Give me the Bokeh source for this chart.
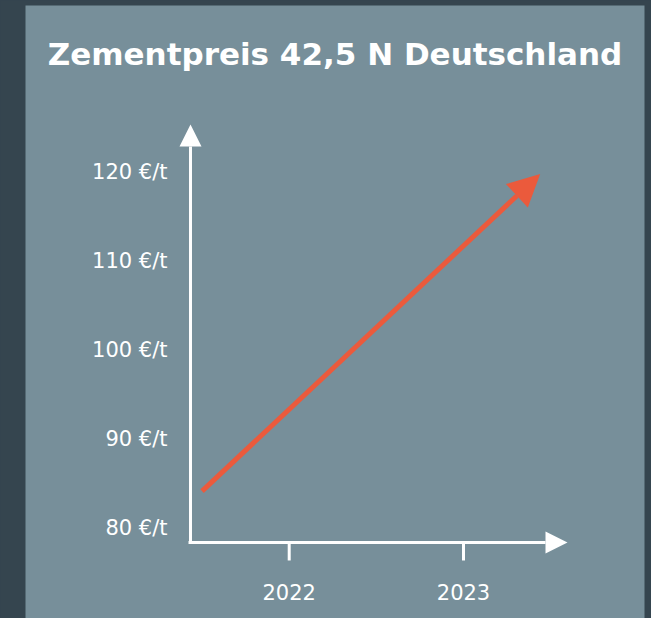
from bokeh.plotting import figure
from bokeh.models import Range1d, Arrow, NormalHead, ColumnDataSource, GlobalInlineStyleSheet
from bokeh.core.properties import value
from bokeh.embed import file_html
from bokeh.resources import INLINE

# ---- data ----
title_text = "Zementpreis 42,5 N Deutschland"
trend_years = [2021.5, 2023.44]
trend_prices = [84.2, 119.8]
x_ticks = [2022, 2023]
x_tick_labels = ["2022", "2023"]
y_ticks = [80, 90, 100, 110, 120]
y_tick_labels = ["80 €/t", "90 €/t", "100 €/t", "110 €/t", "120 €/t"]

# ---- styling ----
DARK = "#35454f"
PANEL = "#778f9a"
RED = "#eb5a3c"
WHITE = "#ffffff"

W, H = 651, 618
p = figure(width=W, height=H, output_backend="svg", toolbar_location=None,
           x_range=Range1d(2020.4871, 2024.0384), y_range=Range1d(69.899, 138.698),
           min_border_left=25, min_border_right=7, min_border_top=5, min_border_bottom=0,
           x_axis_type=None, y_axis_type=None)
p.border_fill_color = DARK
p.background_fill_color = PANEL
p.outline_line_color = None
p.grid.visible = False
p.stylesheets = [GlobalInlineStyleSheet(css="html,body{margin:0;padding:0;overflow:hidden;background:%s;}" % DARK)]

# axis geometry (layout positions in data space)
y_axis_x = 2021.4337
x_axis_y = 78.429
x_axis_left = 2021.4223
x_axis_tip = 2023.5967
y_axis_tip = 125.34
tick_bottom = 76.41
xlabel_y = 72.82
ylabel_x = 2021.3018
title_y = 133.2

# axes arrows
p.add_layout(Arrow(end=NormalHead(size=22, fill_color=WHITE, line_color=WHITE, line_width=0),
                   x_start=y_axis_x, y_start=x_axis_y - 0.17, x_end=y_axis_x, y_end=y_axis_tip,
                   line_color=WHITE, line_width=3))
p.add_layout(Arrow(end=NormalHead(size=22, fill_color=WHITE, line_color=WHITE, line_width=0),
                   x_start=x_axis_left, y_start=x_axis_y, x_end=x_axis_tip, y_end=x_axis_y,
                   line_color=WHITE, line_width=3))

# x ticks
p.segment(x0=x_ticks, y0=[x_axis_y] * len(x_ticks), x1=x_ticks, y1=[tick_bottom] * len(x_ticks),
          line_color=WHITE, line_width=3)

# tick labels
p.text(x=x_ticks, y=[xlabel_y] * len(x_ticks), text=x_tick_labels,
       text_font=value("DejaVu Sans"), text_font_size="21px", text_color=WHITE,
       text_align="center", text_baseline="middle")
p.text(x=[ylabel_x] * len(y_ticks), y=y_ticks, text=y_tick_labels,
       text_font=value("DejaVu Sans"), text_font_size="21px", text_color=WHITE,
       text_align="right", text_baseline="middle")

# title
p.text(x=[(2020.4871 + 2024.0384) / 2], y=[title_y], text=[title_text],
       text_font=value("DejaVu Sans"), text_font_style="bold", text_font_size="31px",
       text_color=WHITE, text_align="center", text_baseline="middle")

# trend arrow
src = ColumnDataSource(dict(x0=[trend_years[0]], y0=[trend_prices[0]],
                            x1=[trend_years[1]], y1=[trend_prices[1]]))
p.add_layout(Arrow(end=NormalHead(size=32, fill_color=RED, line_color=RED, line_width=0),
                   x_start="x0", y_start="y0", x_end="x1", y_end="y1", source=src,
                   line_color=RED, line_width=5))

open("out.html", "w").write(file_html(p, INLINE))
